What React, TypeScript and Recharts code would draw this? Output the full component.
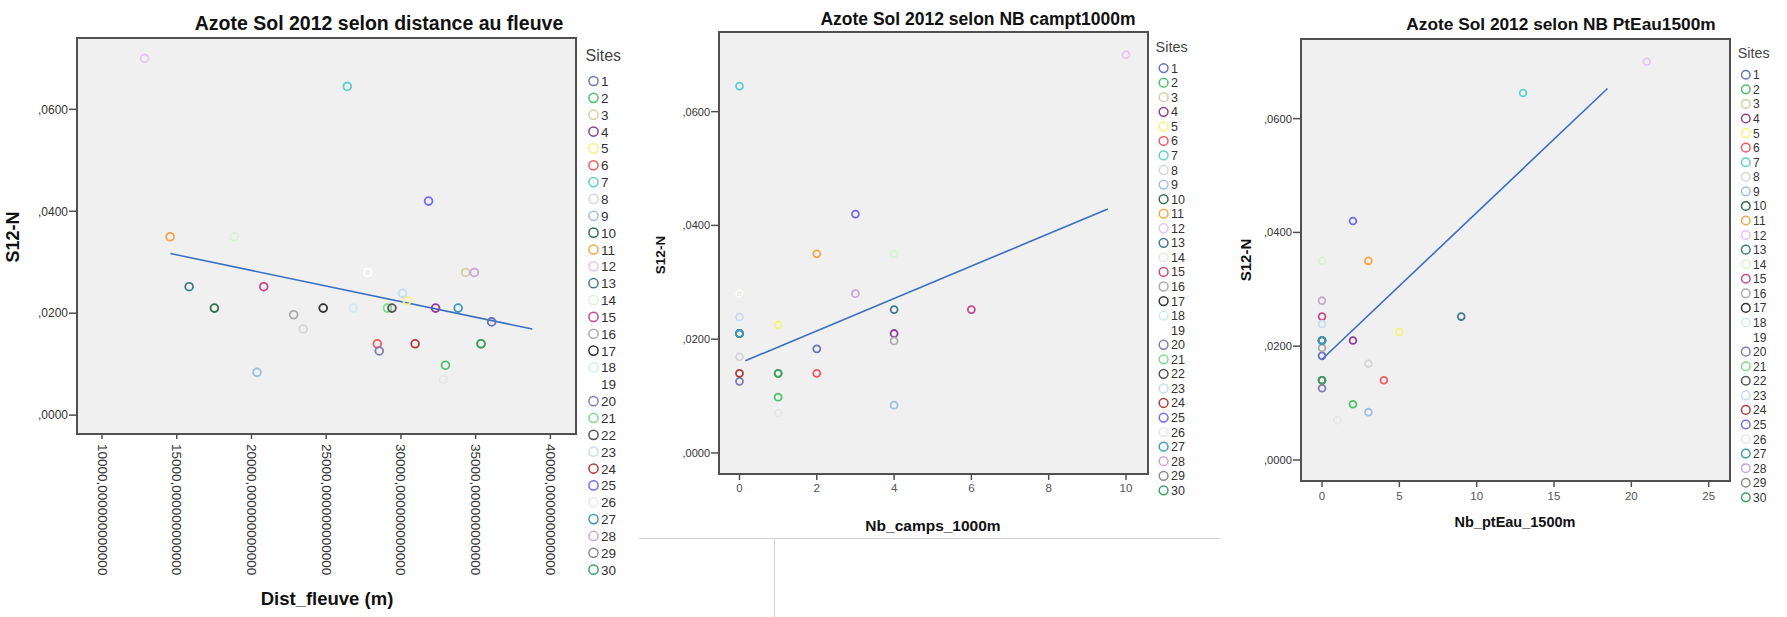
import React from 'react';
import {
  ScatterChart,
  Scatter,
  XAxis,
  YAxis,
  CartesianGrid,
  ReferenceArea,
  ReferenceLine,
} from 'recharts';

const FONT = '"Liberation Sans", Arial, Helvetica, sans-serif';

// one entry per site (1..30)
const sites = [
  '1', '2', '3', '4', '5', '6', '7', '8', '9', '10',
  '11', '12', '13', '14', '15', '16', '17', '18', '19', '20',
  '21', '22', '23', '24', '25', '26', '27', '28', '29', '30',
];

const siteColors = [
  '#6474BE', '#4CC26A', '#D6CEA6', '#8E3E9A', '#F7F27C', '#EE5A5F', '#5DCFD0', '#D6D6D6', '#9BBEEA', '#2F6E4A',
  '#F5A54A', '#E6C6F0', '#3F7A8A', '#D4F5CF', '#C84A8A', '#ABABAB', '#333333', '#CDEEF0', '#FFFFFF', '#7F7DB5',
  '#7DDB8F', '#555555', '#C5DDF5', '#B23A3A', '#6E6EF2', '#E6E6E6', '#3C9AC0', '#C9A6D8', '#8A8A8A', '#3AA563',
];

const s12n = [
  0.0183, 0.0098, 0.028, 0.021, 0.0225, 0.014, 0.0645, 0.0169, 0.0084, 0.021,
  0.035, 0.07, 0.0252, 0.035, 0.0252, 0.0197, 0.021, 0.021, 0.028, 0.0126,
  0.021, 0.021, 0.0239, 0.014, 0.042, 0.007, 0.021, 0.028, 0.014, 0.014,
];

const distFleuve = [
  36070, 32980, 34330, 32320, 30420, 28420, 26410, 23460, 20370, 17520,
  14560, 12850, 15830, 18840, 20820, 22820, 24800, 26810, 27780, 28550,
  29100, 29400, 30110, 30950, 31850, 32850, 33830, 34910, 35360, 35360,
];

const nbCamps = [
  2, 1, 0, 4, 1, 2, 0, 0, 4, 0,
  2, 10, 4, 4, 6, 4, 0, 0, 0, 0,
  0, 0, 0, 0, 3, 1, 0, 3, 1, 1,
];

const nbPtEau = [
  0, 2, 0, 2, 5, 4, 13, 3, 3, 0,
  3, 21, 9, 0, 0, 0, 0, 0, 0, 0,
  0, 0, 0, 0, 2, 1, 0, 0, 0, 0,
];

const yTicks = [0, 0.02, 0.04, 0.06];
const distTicks = [10000, 15000, 20000, 25000, 30000, 35000, 40000];
const campsTicks = [0, 2, 4, 6, 8, 10];
const ptEauTicks = [0, 5, 10, 15, 20, 25];

// fit lines as drawn by SPSS
const fitDist = [{ x: 14578, y: 0.0317 }, { x: 38790, y: 0.0169 }];
const fitCamps = [{ x: 0.15, y: 0.0162 }, { x: 9.53, y: 0.0429 }];
const fitPtEau = [{ x: 0, y: 0.0177 }, { x: 18.46, y: 0.0653 }];

const yDomain: [number, number] = [-0.0037, 0.074];

const fmtY = (v: number) => v.toFixed(4).replace('0.', ',');
const fmtDist = (v: number) => v.toFixed(12).replace('.', ',');

const AXIS = '#505050';

function DistTick(props: any) {
  const { x, y, payload } = props;
  return (
    <text
      x={x}
      y={y}
      transform={`rotate(90 ${x} ${y})`}
      dominantBaseline="central"
      fontSize={13.5}
      fill="#333"
      fontFamily={FONT}
    >
      {fmtDist(payload.value)}
    </text>
  );
}

interface PanelProps {
  left: number;
  width: number;
  top: number;
  right: number;
  yAxisWidth: number;
  xAxisHeight: number;
  xs: number[];
  xDomain: [number, number];
  xTicks: number[];
  fit: { x: number; y: number }[];
  r: number;
  yFont: number;
  xTick: any;
  xTickSize: number;
  xTickMargin: number;
}

function Panel(p: PanelProps) {
  return (
    <div style={{ position: 'absolute', left: p.left, top: 0 }}>
      <ScatterChart
        width={p.width}
        height={617}
        margin={{ top: p.top, right: p.right, bottom: 0, left: 0 }}
      >
        <CartesianGrid horizontal={false} vertical={false} fill="#F0F0F0" />
        <XAxis
          type="number"
          dataKey="x"
          domain={p.xDomain}
          ticks={p.xTicks}
          allowDataOverflow
          height={p.xAxisHeight}
          axisLine={{ stroke: AXIS, strokeWidth: 2 }}
          tickLine={{ stroke: AXIS, strokeWidth: 1.5 }}
          tickSize={p.xTickSize}
          tickMargin={p.xTickMargin}
          tick={p.xTick}
          interval={0}
        />
        <YAxis
          type="number"
          dataKey="y"
          domain={yDomain}
          ticks={yTicks}
          allowDataOverflow
          width={p.yAxisWidth}
          tickFormatter={fmtY}
          axisLine={{ stroke: AXIS, strokeWidth: 2 }}
          tickLine={{ stroke: AXIS, strokeWidth: 1.5 }}
          tickSize={8}
          tickMargin={1}
          tick={{ fontSize: p.yFont, fill: '#333', fontFamily: FONT }}
          interval={0}
        />
        <ReferenceArea
          x1={p.xDomain[0]}
          x2={p.xDomain[1]}
          y1={yDomain[0]}
          y2={yDomain[1]}
          fill="none"
          stroke={AXIS}
          strokeWidth={2}
          ifOverflow="visible"
        />
        {sites.map((s, i) => (
          <Scatter
            key={s}
            name={s}
            data={[{ x: p.xs[i], y: s12n[i] }]}
            isAnimationActive={false}
            shape={(sp: any) => (
              <circle
                cx={sp.cx}
                cy={sp.cy}
                r={p.r}
                fill="none"
                stroke={siteColors[i]}
                strokeWidth={1.8}
              />
            )}
          />
        ))}
        <ReferenceLine segment={p.fit} stroke="#3A6FBF" strokeWidth={1.6} ifOverflow="visible" />
      </ScatterChart>
    </div>
  );
}

function SiteLegend(props: {
  x: number;
  titleY: number;
  firstY: number;
  step: number;
  r: number;
  titleSize: number;
  size: number;
}) {
  const { x, titleY, firstY, step, r, titleSize, size } = props;
  return (
    <g fontFamily={FONT}>
      <text x={x - 8} y={titleY} fontSize={titleSize} fill="#444" dominantBaseline="central">
        Sites
      </text>
      {sites.map((s, i) => (
        <g key={s}>
          <circle cx={x} cy={firstY + i * step} r={r} fill="none" stroke={siteColors[i]} strokeWidth={1.5} />
          <text
            x={x + r + 3}
            y={firstY + i * step + 0.5}
            fontSize={size}
            fill="#333"
            dominantBaseline="central"
          >
            {s}
          </text>
        </g>
      ))}
    </g>
  );
}

export default function App() {
  return (
    <div
      style={{
        position: 'absolute',
        left: 0,
        top: 0,
        width: 1787,
        height: 617,
        background: '#fff',
        overflow: 'hidden',
        fontFamily: FONT,
      }}
    >
      <Panel
        left={0}
        width={590}
        top={38}
        right={14}
        yAxisWidth={77}
        xAxisHeight={183}
        xs={distFleuve}
        xDomain={[8327, 41714]}
        xTicks={distTicks}
        fit={fitDist}
        r={3.9}
        yFont={12}
        xTick={DistTick}
        xTickSize={5}
        xTickMargin={5}
      />
      <Panel
        left={630}
        width={530}
        top={32}
        right={12}
        yAxisWidth={89}
        xAxisHeight={143}
        xs={nbCamps}
        xDomain={[-0.53, 10.57]}
        xTicks={campsTicks}
        fit={fitCamps}
        r={3.5}
        yFont={11}
        xTick={{ fontSize: 11.5, fill: '#555', fontFamily: FONT }}
        xTickSize={6}
        xTickMargin={4}
      />
      <Panel
        left={1230}
        width={510}
        top={39}
        right={10}
        yAxisWidth={71}
        xAxisHeight={136}
        xs={nbPtEau}
        xDomain={[-1.36, 26.38]}
        xTicks={ptEauTicks}
        fit={fitPtEau}
        r={3.4}
        yFont={11.2}
        xTick={{ fontSize: 11.5, fill: '#555', fontFamily: FONT }}
        xTickSize={6}
        xTickMargin={5}
      />
      <svg
        width={1787}
        height={617}
        style={{ position: 'absolute', left: 0, top: 0, pointerEvents: 'none' }}
      >
        <g fontFamily={FONT} fontWeight="bold" fill="#111" textAnchor="middle" dominantBaseline="central">
          <text x={379} y={23} fontSize={19.5}>Azote Sol 2012 selon distance au fleuve</text>
          <text x={978} y={19} fontSize={17.5}>Azote Sol 2012 selon NB campt1000m</text>
          <text x={1561} y={24} fontSize={17.3}>Azote Sol 2012 selon NB PtEau1500m</text>
          <text x={327} y={598} fontSize={18.5}>Dist_fleuve (m)</text>
          <text x={933} y={525.5} fontSize={15.5}>Nb_camps_1000m</text>
          <text x={1515} y={522} fontSize={14.5}>Nb_ptEau_1500m</text>
          <text x={13} y={237} fontSize={18} transform="rotate(-90 13 237)">S12-N</text>
          <text x={660} y={255} fontSize={13.5} transform="rotate(-90 660 255)">S12-N</text>
          <text x={1245} y={260} fontSize={15} transform="rotate(-90 1245 260)">S12-N</text>
        </g>
        <SiteLegend x={593.5} titleY={55} firstY={81} step={16.85} r={4.6} titleSize={16} size={13.5} />
        <SiteLegend x={1163.6} titleY={46.5} firstY={68.1} step={14.56} r={4.4} titleSize={14.4} size={12.5} />
        <SiteLegend x={1745.8} titleY={53} firstY={74.8} step={14.57} r={4.3} titleSize={14.3} size={12} />
        <line x1={639} y1={538.5} x2={1220} y2={538.5} stroke="#D4D4D4" strokeWidth={1} />
        <line x1={774.5} y1={538.5} x2={774.5} y2={617} stroke="#D4D4D4" strokeWidth={1} />
      </svg>
    </div>
  );
}
